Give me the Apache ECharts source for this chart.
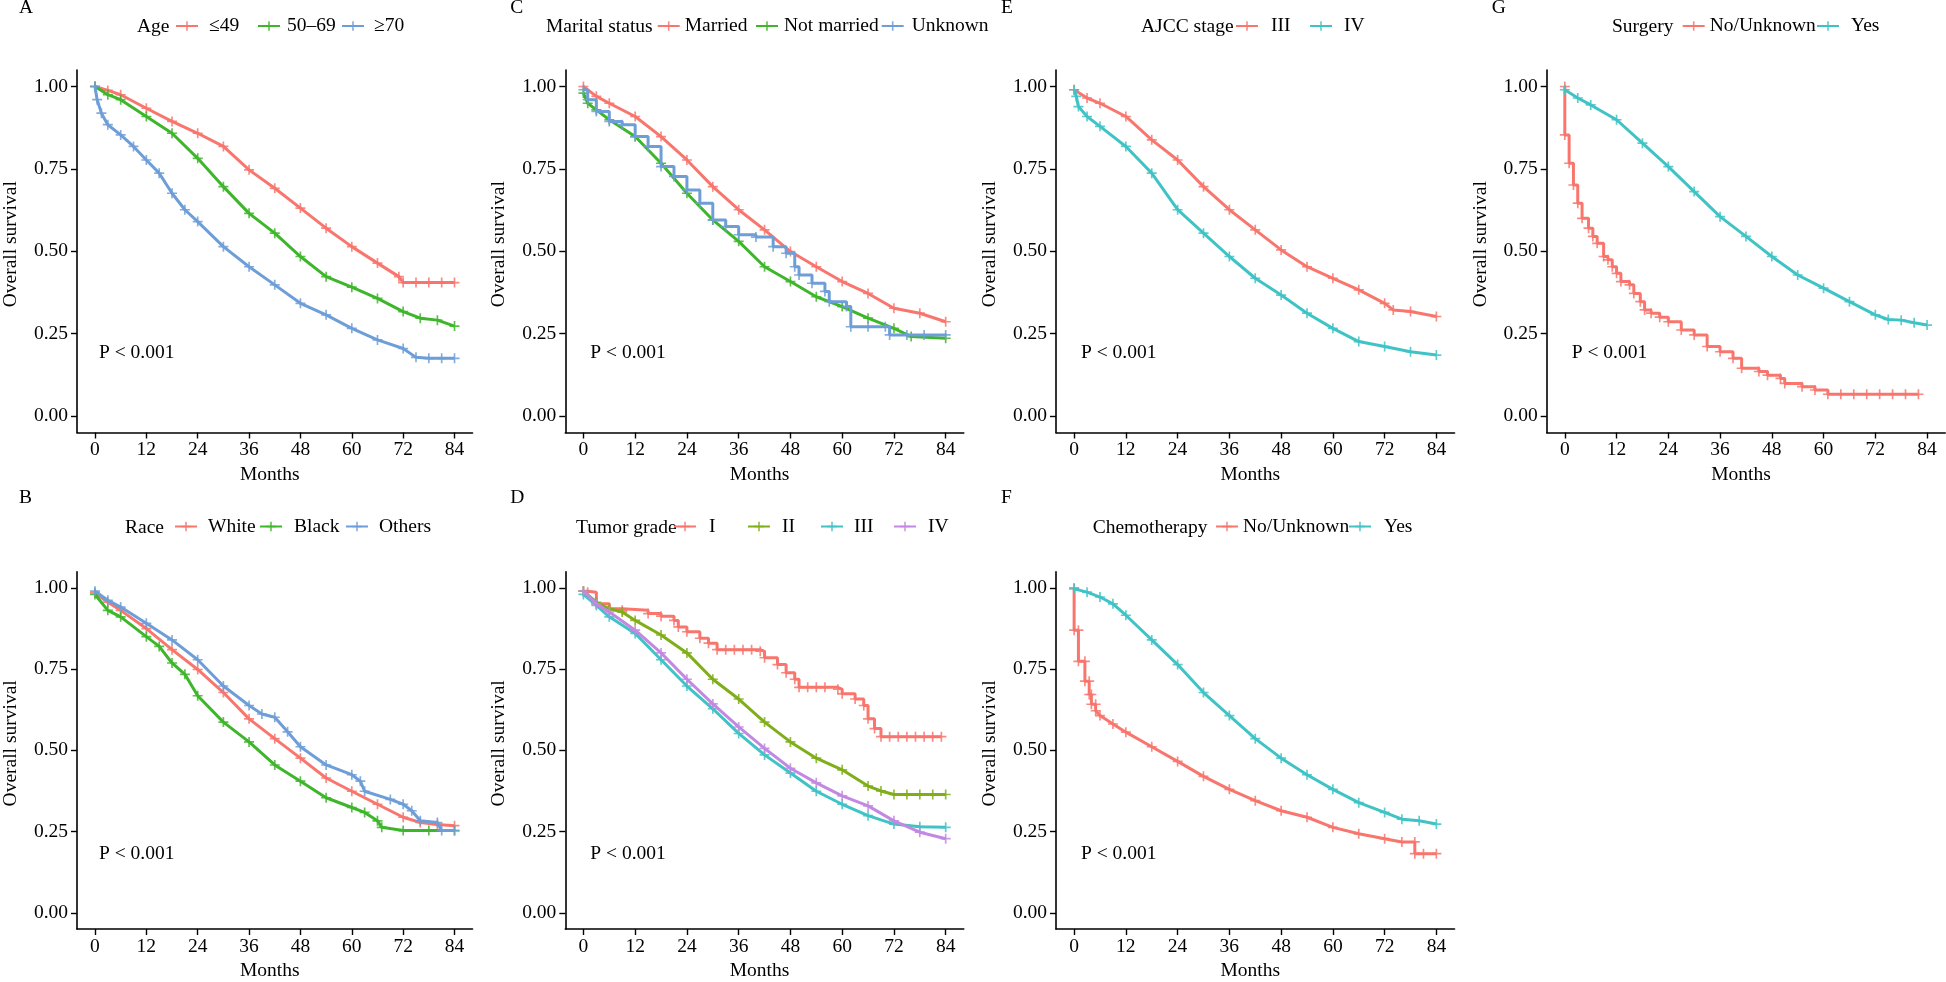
<!DOCTYPE html>
<html>
<head>
<meta charset="utf-8">
<script src="https://cdn.jsdelivr.net/npm/echarts@6/dist/echarts.min.js"></script>
<style>html,body{margin:0;padding:0;background:#fff}#chart{width:1946px;height:982px}</style>
</head>
<body>
<div id="chart"></div>
<script>
// ---------------- DATA ----------------
const monthTicks = [0, 12, 24, 36, 48, 60, 72, 84];
const survTicks = [0, 0.25, 0.5, 0.75, 1];

// A: Age
const ageGroups = ['≤49', '50–69', '≥70'];
const ageLe49 = [[0,1],[3,0.988],[6,0.975],[12,0.934],[18,0.894],[24,0.858],[30,0.818],[36,0.747],[42,0.691],[48,0.631],[54,0.570],[60,0.514],[66,0.464],[71,0.423],[72,0.405],[75,0.405],[78,0.405],[81,0.405],[84,0.405]];
const age5069 = [[0,1],[3,0.975],[6,0.96],[12,0.909],[18,0.858],[24,0.782],[30,0.696],[36,0.615],[42,0.555],[48,0.484],[54,0.423],[60,0.391],[66,0.357],[72,0.317],[76,0.297],[80,0.291],[84,0.273]];
const ageGe70 = [[0,1],[0.5,0.96],[1.5,0.919],[3,0.884],[6,0.853],[9,0.818],[12,0.777],[15,0.737],[18,0.676],[21,0.626],[24,0.59],[30,0.514],[36,0.453],[42,0.398],[48,0.342],[54,0.307],[60,0.266],[66,0.231],[72,0.205],[75,0.178],[78,0.175],[81,0.175],[84,0.175]];

// B: Race
const raceGroups = ['White', 'Black', 'Others'];
const raceWhite = [[0,0.985],[3,0.956],[6,0.931],[12,0.875],[18,0.81],[24,0.749],[30,0.678],[36,0.597],[42,0.536],[48,0.476],[54,0.415],[60,0.374],[66,0.334],[72,0.294],[76,0.278],[80,0.272],[84,0.268]];
const raceBlack = [[0,0.98],[3,0.931],[6,0.911],[12,0.85],[15,0.82],[18,0.769],[21,0.734],[24,0.668],[30,0.587],[36,0.526],[42,0.455],[48,0.405],[54,0.354],[60,0.324],[63,0.309],[66,0.283],[67,0.263],[72,0.253],[78,0.253],[84,0.253]];
const raceOthers = [[0,0.99],[3,0.962],[6,0.941],[12,0.891],[18,0.84],[24,0.779],[30,0.698],[36,0.638],[39,0.612],[42,0.602],[45,0.557],[48,0.511],[54,0.455],[60,0.425],[62,0.405],[63,0.374],[69,0.349],[72,0.334],[74,0.314],[76,0.283],[80,0.278],[81,0.253],[84,0.253]];

// C: Marital status
const maritalGroups = ['Married', 'Not married', 'Unknown'];
const maritalMarried = [[0,1],[3,0.97],[6,0.949],[12,0.909],[18,0.848],[24,0.777],[30,0.696],[36,0.626],[42,0.565],[48,0.499],[54,0.453],[60,0.408],[66,0.372],[72,0.327],[78,0.312],[84,0.286]];
const maritalNot = [[0,0.98],[1,0.949],[3,0.929],[6,0.899],[12,0.848],[18,0.767],[24,0.676],[30,0.595],[36,0.53],[42,0.453],[48,0.408],[54,0.362],[60,0.332],[66,0.297],[72,0.266],[76,0.241],[84,0.236]];
const maritalUnknown = [[0,0.99],[1,0.96],[3,0.924],[6,0.894],[9,0.884],[12,0.848],[15,0.818],[18,0.757],[21,0.727],[24,0.686],[27,0.646],[30,0.595],[33,0.575],[36,0.55],[40,0.543],[44,0.514],[47,0.494],[49,0.453],[50,0.428],[53,0.403],[56,0.378],[57,0.347],[61,0.332],[62,0.271],[66,0.271],[70,0.271],[71,0.246],[75,0.246],[79,0.246],[84,0.246]];

// D: Tumor grade
const gradeGroups = ['I', 'II', 'III', 'IV'];
const gradeI = [[0,0.99],[1,0.987],[3,0.951],[6,0.936],[9,0.931],[15,0.921],[18,0.913],[21,0.9],[22,0.88],[24,0.865],[27,0.845],[29,0.83],[31,0.81],[33,0.81],[35,0.81],[37,0.81],[39,0.81],[41,0.805],[42,0.785],[45,0.764],[47,0.739],[49,0.719],[50,0.694],[52,0.694],[54,0.694],[56,0.694],[59,0.688],[60,0.674],[63,0.658],[65,0.638],[66,0.597],[67.5,0.567],[69,0.542],[71,0.542],[73,0.542],[75,0.542],[77,0.542],[79,0.542],[81,0.542],[83,0.542]];
const gradeII = [[0,0.99],[3,0.956],[6,0.936],[9,0.926],[12,0.9],[18,0.855],[24,0.8],[30,0.719],[36,0.658],[42,0.587],[48,0.526],[54,0.476],[60,0.44],[66,0.39],[69,0.375],[72,0.364],[75,0.364],[78,0.364],[81,0.364],[84,0.364]];
const gradeIII = [[0,0.98],[3,0.946],[6,0.911],[12,0.86],[18,0.779],[24,0.698],[30,0.628],[36,0.552],[42,0.486],[48,0.43],[54,0.374],[60,0.334],[66,0.299],[72,0.273],[78,0.265],[84,0.263]];
const gradeIV = [[0,0.99],[3,0.951],[6,0.926],[12,0.87],[18,0.8],[24,0.719],[30,0.643],[36,0.572],[42,0.506],[48,0.445],[54,0.4],[60,0.36],[66,0.329],[72,0.283],[78,0.248],[84,0.228]];

// E: AJCC stage
const stageGroups = ['III', 'IV'];
const stageIII = [[0,0.99],[3,0.965],[6,0.949],[12,0.909],[18,0.838],[24,0.777],[30,0.696],[36,0.626],[42,0.565],[48,0.504],[54,0.453],[60,0.418],[66,0.383],[72,0.342],[74,0.322],[78,0.317],[84,0.302]];
const stageIV = [[0,0.99],[0.5,0.97],[1,0.939],[3,0.909],[6,0.879],[12,0.818],[18,0.737],[24,0.626],[30,0.555],[36,0.484],[42,0.418],[48,0.367],[54,0.312],[60,0.266],[66,0.226],[72,0.211],[78,0.195],[84,0.185]];

// F: Chemotherapy
const chemoGroups = ['No/Unknown', 'Yes'];
const chemoNo = [[0,1],[0,0.87],[1,0.87],[1,0.774],[2.5,0.774],[2.5,0.713],[3.5,0.713],[3.5,0.672],[4,0.672],[4,0.642],[5,0.642],[5,0.622],[6,0.607],[9,0.581],[12,0.556],[18,0.511],[24,0.466],[30,0.42],[36,0.38],[42,0.345],[48,0.314],[54,0.294],[60,0.263],[66,0.243],[72,0.228],[76,0.218],[79,0.218],[79,0.182],[81,0.182],[84,0.182]];
const chemoYes = [[0,0.997],[3,0.987],[6,0.972],[9,0.951],[12,0.916],[18,0.84],[24,0.764],[30,0.678],[36,0.607],[42,0.536],[48,0.476],[54,0.425],[60,0.38],[66,0.339],[72,0.309],[76,0.288],[80,0.283],[84,0.273]];

// G: Surgery
const surgeryGroups = ['No/Unknown', 'Yes'];
const surgeryNo = [[0,1],[0,0.853],[1,0.767],[2,0.701],[3,0.646],[4,0.6],[5.5,0.57],[6.5,0.545],[7.5,0.524],[9,0.484],[10,0.474],[11,0.453],[12,0.433],[13,0.408],[15,0.398],[16,0.372],[17.5,0.347],[18.5,0.322],[20,0.312],[22,0.3],[24,0.286],[27,0.261],[30,0.246],[33,0.211],[36,0.195],[39,0.175],[41,0.145],[45,0.135],[47,0.124],[50,0.114],[51,0.099],[55,0.089],[58,0.079],[61,0.066],[64,0.066],[67,0.066],[70,0.066],[73,0.066],[76,0.066],[79,0.066],[82,0.066]];
const surgeryYes = [[0,0.99],[3,0.965],[6,0.944],[12,0.899],[18,0.828],[24,0.757],[30,0.681],[36,0.605],[42,0.545],[48,0.484],[54,0.428],[60,0.388],[66,0.347],[72,0.307],[75,0.293],[78,0.291],[81,0.283],[84,0.276]];

const pValueText = 'P < 0.001';

// ---------------- STYLE / LAYOUT ----------------
const FONT = 'Liberation Serif';
const FS = 19.5;
const RED = '#F8766D', GREEN = '#3EB62B', BLUE = '#6E9ED8', CYAN = '#3FC3C5', OLIVE = '#7FAE1A', PURPLE = '#C288E2';
const PLUS = 'path://M7.5,0H10.5V7.5H18V10.5H10.5V18H7.5V10.5H0V7.5H7.5Z';
const COL_LEFT = [74, 565.3, 1056, 1546.7];
const ROW_TOP = [70, 571.7];
const GRID_W = 398.5, GRID_H = 362.5;
const LETTER_Y = [7.5, 497.5];
const LEGEND_Y = [27, 527.5];
const P_Y = [353, 853.5];

const panels = [
  {id:'A', title:'Age', groups:ageGroups, data:[ageLe49, age5069, ageGe70], colors:[RED, GREEN, BLUE], step:[false,false,false],
   col:0, row:0, titleX:137, keys:[175,257,341], pads:[6,2,5]},
  {id:'C', title:'Marital status', groups:maritalGroups, data:[maritalMarried, maritalNot, maritalUnknown], colors:[RED, GREEN, BLUE], step:[false,false,true],
   col:1, row:0, titleX:546, keys:[656.7,755,880.7], pads:[0,1,3]},
  {id:'E', title:'AJCC stage', groups:stageGroups, data:[stageIII, stageIV], colors:[RED, CYAN], step:[false,false],
   col:2, row:0, titleX:1141, keys:[1235,1309], pads:[8,7]},
  {id:'G', title:'Surgery', groups:surgeryGroups, data:[surgeryNo, surgeryYes], colors:[RED, CYAN], step:[true,false],
   col:3, row:0, titleX:1612, keys:[1681.7,1816], pads:[0,7]},
  {id:'B', title:'Race', groups:raceGroups, data:[raceWhite, raceBlack, raceOthers], colors:[RED, GREEN, BLUE], step:[false,false,false],
   col:0, row:1, titleX:125, keys:[174,259,345], pads:[6,7,6]},
  {id:'D', title:'Tumor grade', groups:gradeGroups, data:[gradeI, gradeII, gradeIII, gradeIV], colors:[RED, OLIVE, CYAN, PURPLE], step:[true,false,false,false],
   col:1, row:1, titleX:576, keys:[673,747,820,893], pads:[8,7,6,7]},
  {id:'F', title:'Chemotherapy', groups:chemoGroups, data:[chemoNo, chemoYes], colors:[RED, CYAN], step:[false,false],
   col:2, row:1, titleX:1092.7, keys:[1215,1348], pads:[0,8]}
];

const grids = [], xAxes = [], yAxes = [], series = [], legends = [], graphics = [];
function txt(extra) {
  return Object.assign({fontFamily: FONT, fontSize: FS, fontWeight: 'normal', color: '#000'}, extra || {});
}

panels.forEach((p, i) => {
  const left = COL_LEFT[p.col], top = ROW_TOP[p.row];
  grids.push({left: left, top: top, width: GRID_W, height: GRID_H});
  xAxes.push({
    type: 'value', gridIndex: i, min: -4.2, max: 88.2,
    name: 'Months', nameLocation: 'middle', nameGap: 32,
    nameTextStyle: txt({padding: [0, 10, 0, 0]}),
    axisLine: {onZero: false, lineStyle: {color: '#000', width: 1.6}},
    axisTick: {customValues: monthTicks, length: 6, lineStyle: {color: '#000', width: 1.4}},
    axisLabel: txt({customValues: monthTicks, margin: 7.5}),
    splitLine: {show: false}
  });
  yAxes.push({
    type: 'value', gridIndex: i, min: -0.05, max: 1.05,
    name: 'Overall survival', nameLocation: 'middle', nameGap: 56,
    nameTextStyle: txt({padding: [0, 0, 0, 14]}),
    axisLine: {onZero: false, lineStyle: {color: '#000', width: 1.6}},
    axisTick: {customValues: survTicks, length: 6, lineStyle: {color: '#000', width: 1.4}},
    axisLabel: txt({customValues: survTicks, margin: 9, formatter: v => v.toFixed(2)}),
    splitLine: {show: false}
  });
  p.groups.forEach((g, k) => {
    const sname = p.id + '|' + g;
    series.push({
      type: 'line', name: sname, xAxisIndex: i, yAxisIndex: i,
      data: p.data[k], step: p.step[k] ? 'end' : false,
      lineStyle: {width: 3, color: p.colors[k]},
      itemStyle: {color: p.colors[k], opacity: 0.85},
      symbol: PLUS, symbolSize: 10, showSymbol: true, showAllSymbol: true,
      animation: false, silent: true, emphasis: {disabled: true}, z: 2 + k
    });
    legends.push({
      left: p.keys[k], top: LEGEND_Y[p.row] - 11, padding: 0,
      itemWidth: 22, itemHeight: 12, selectedMode: false,
      data: [{name: sname, textStyle: {padding: [0, 0, 0, p.pads[k]]}}],
      formatter: n => n.split('|')[1],
      textStyle: txt()
    });
  });
  const font = FS + 'px "' + FONT + '"';
  graphics.push({type: 'text', x: left - 55, y: LETTER_Y[p.row], silent: true,
    style: {text: p.id, font: font, fill: '#000', verticalAlign: 'middle', align: 'left'}});
  graphics.push({type: 'text', x: p.titleX, y: LEGEND_Y[p.row], silent: true,
    style: {text: p.title, font: font, fill: '#000', verticalAlign: 'middle', align: 'left'}});
  graphics.push({type: 'text', x: left + 25, y: P_Y[p.row], silent: true,
    style: {text: pValueText, font: font, fill: '#000', verticalAlign: 'middle', align: 'left'}});
});

const chart = echarts.init(document.getElementById('chart'));
chart.setOption({
  backgroundColor: '#fff',
  animation: false,
  textStyle: {fontFamily: FONT, fontSize: FS, color: '#000'},
  grid: grids, xAxis: xAxes, yAxis: yAxes, series: series,
  legend: legends, graphic: graphics
});
</script>
</body>
</html>
